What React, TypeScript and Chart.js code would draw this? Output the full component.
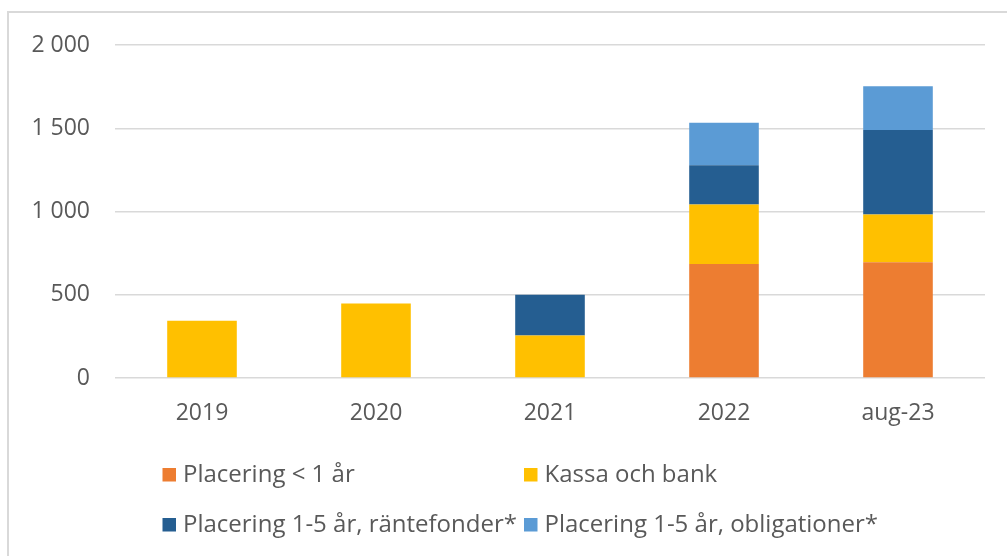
import React, { useEffect, useRef } from "react";
import { Chart, registerables } from "chart.js";

Chart.register(...registerables);

const categories = ["2019", "2020", "2021", "2022", "aug-23"];
const placeringUnder1 = [0, 0, 0, 685, 695];
const kassaOchBank = [344, 448, 256, 357, 287];
const rantefonder = [0, 0, 244, 236, 507];
const obligationer = [0, 0, 0, 255, 263];
const seriesLabels = [
  "Placering < 1 år",
  "Kassa och bank",
  "Placering 1-5 år, räntefonder*",
  "Placering 1-5 år, obligationer*",
];
const seriesColors = ["#ED7D31", "#FFC000", "#255E91", "#5B9BD5"];

const FONT = "'Open Sans', 'Liberation Sans', sans-serif";
const TEXT = "#595959";

const legendPlugin = {
  id: "gridLegend",
  afterDraw(chart: any) {
    const ctx = chart.ctx;
    const cols = [162.5, 524];
    const rows = [481.5, 531.5];
    const box = 13.5;
    ctx.save();
    ctx.font = `24px ${FONT}`;
    ctx.textBaseline = "alphabetic";
    ctx.textAlign = "left";
    chart.data.datasets.forEach((ds: any, i: number) => {
      const x = cols[i % 2];
      const y = rows[Math.floor(i / 2)];
      ctx.fillStyle = ds.backgroundColor;
      ctx.fillRect(x, y - box, box, box);
      ctx.fillStyle = TEXT;
      ctx.fillText(ds.label, x + 20.5, y);
    });
    ctx.restore();
  },
};

export default function App() {
  const ref = useRef<HTMLCanvasElement>(null);
  useEffect(() => {
    if (!ref.current) return;
    const data = [placeringUnder1, kassaOchBank, rantefonder, obligationer];
    const chart = new Chart(ref.current, {
      type: "bar",
      data: {
        labels: categories,
        datasets: data.map((d, i) => ({
          label: seriesLabels[i],
          data: d,
          backgroundColor: seriesColors[i],
          borderWidth: 0,
          categoryPercentage: 1,
          barPercentage: 0.4,
        })),
      },
      options: {
        animation: false,
        responsive: false,
        devicePixelRatio: 1,
        layout: { padding: { left: 0, right: 22, top: 45, bottom: 0 } },
        plugins: {
          legend: { display: false },
          tooltip: { enabled: false },
        },
        scales: {
          x: {
            stacked: true,
            grid: { display: false, drawTicks: false },
            border: { display: false },
            ticks: {
              color: TEXT,
              font: { family: FONT, size: 23 },
              padding: 22,
            },
            afterFit: (scale: any) => {
              scale.height = 556 - 378;
            },
          },
          y: {
            stacked: true,
            min: 0,
            max: 2000,
            grid: { color: "#D9D9D9", lineWidth: 1.5, drawTicks: false },
            border: { display: false },
            ticks: {
              stepSize: 500,
              color: TEXT,
              font: { family: FONT, size: 23 },
              padding: 25,
              callback: (v: any) =>
                String(v).replace(/\B(?=(\d{3})+(?!\d))/g, " "),
            },
            afterFit: (scale: any) => {
              scale.width = 115;
            },
          },
        },
      },
      plugins: [legendPlugin],
    });
    return () => chart.destroy();
  }, []);

  return (
    <div
      style={{
        position: "absolute",
        left: 0,
        top: 0,
        width: 1007,
        height: 556,
        overflow: "hidden",
        background: "#fff",
      }}
    >
      <div
        style={{
          position: "absolute",
          left: 7,
          top: 11,
          width: 1100,
          height: 700,
          border: "2px solid #D9D9D9",
          boxSizing: "border-box",
        }}
      />
      <canvas
        ref={ref}
        width={1007}
        height={556}
        style={{ position: "absolute", left: 0, top: 0, width: 1007, height: 556 }}
      />
    </div>
  );
}
